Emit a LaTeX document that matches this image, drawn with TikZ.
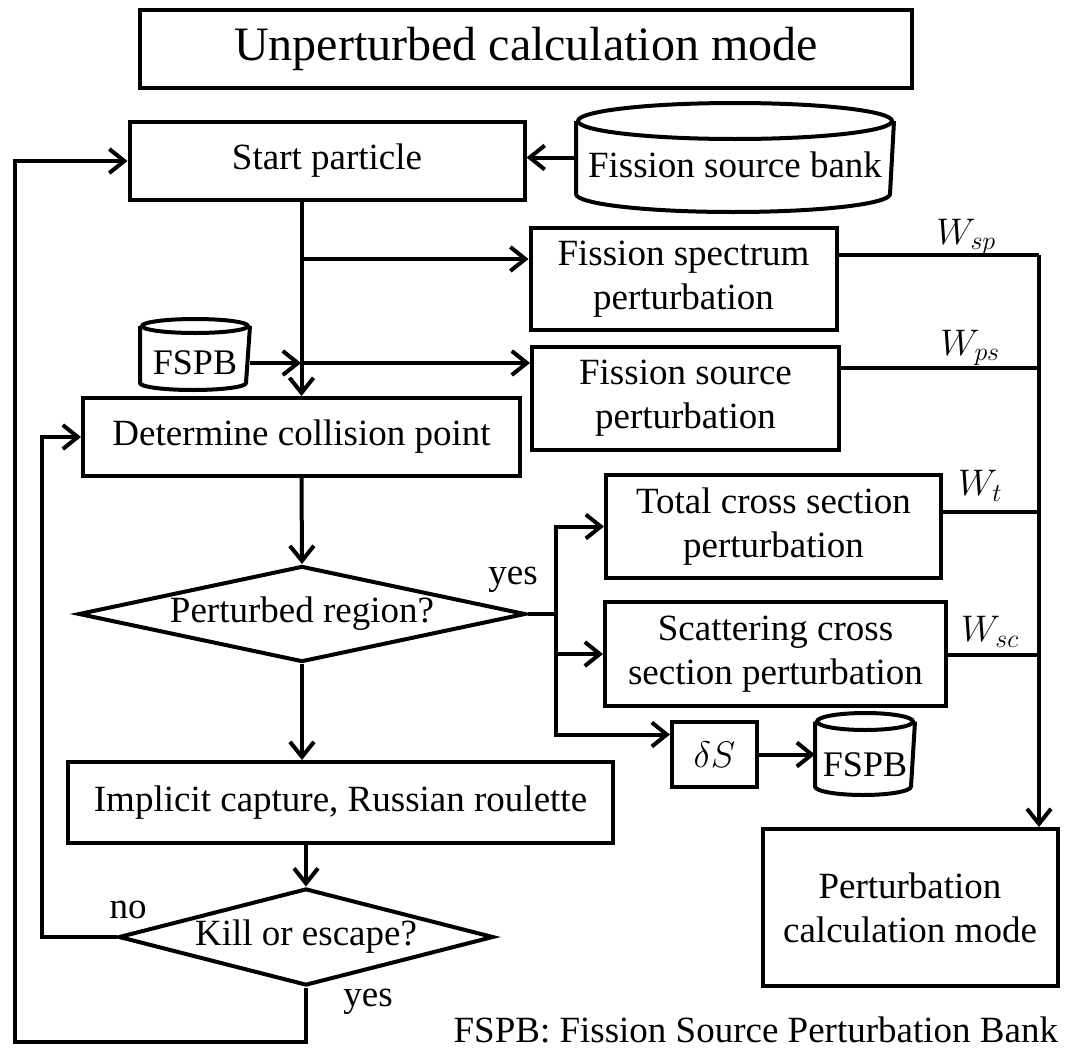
\RequirePackage{fix-cm}
\documentclass[tikz,border=0pt]{standalone}
\usepackage{fontspec}
\setmainfont{Liberation Serif}
\usetikzlibrary{shapes.geometric,arrows.meta,positioning,calc}

% outline of a storage bank round a named node: node, x radius, y radius
\newcommand\bankoutline[3]{%
  \draw (#1.north west) -- (#1.south west)
        arc[start angle=180,end angle=360,x radius=#2pt,y radius=#3pt] -- (#1.north east);
  \draw (#1.north) ellipse[x radius=#2pt,y radius=#3pt];
}

\begin{document}
\begin{tikzpicture}[x=1pt,y=-1pt,line width=4pt,
    box/.style={draw,rectangle,align=center,inner sep=0pt,
                font=\fontsize{37}{44}\selectfont},
    decision/.style={draw,diamond,aspect=#1,inner sep=0pt,
                font=\fontsize{37}{44}\selectfont},
    bankbody/.style={rectangle,inner sep=0pt,font=\fontsize{36}{40}\selectfont},
    tag/.style={inner sep=0pt,font=\fontsize{37}{44}\selectfont},
    flow/.style={-{Straight Barb[length=15pt,width=24pt]}}
]
\useasboundingbox (0,0) rectangle (1066,1052);

% boxes
\node[box,minimum width=772,minimum height=78,font=\fontsize{48}{56}\selectfont] (title) at (526,49) {Unperturbed calculation mode};
\node[box,minimum width=395,minimum height=78] (start) at (327,161) {Start particle};
\node[bankbody,minimum width=314,minimum height=69,text height=40pt,font=\fontsize{37}{44}\selectfont] (fsb) at (735,157.5) {Fission source bank};
\node[box,minimum width=306,minimum height=102] (spec) at (683.5,279) {Fission spectrum\\perturbation};
\node[box,minimum width=307,minimum height=103] (src) at (685.5,398.5) {Fission source\\perturbation};
\node[bankbody,minimum width=106,minimum height=53,text height=41pt] (fspb) at (195,354.5) {FSPB};
\node[box,minimum width=437,minimum height=78] (coll) at (301.5,437) {Determine collision point};
\node[decision=4.6,minimum width=447,minimum height=96] (preg) at (302,614) {Perturbed region?};
\node[box,minimum width=335,minimum height=103] (tot) at (773.5,526.5) {Total cross section\\perturbation};
\node[box,minimum width=341,minimum height=104] (scat) at (775.5,654) {Scattering cross\\section perturbation};
\node[box,minimum width=85,minimum height=65] (ds) at (714.5,754.5) {$\delta S$};
\node[bankbody,minimum width=96,minimum height=61,text height=46pt] (fspb2) at (865,754) {FSPB};
\node[box,minimum width=545,minimum height=81] (cap) at (340.5,802.5) {Implicit capture, Russian roulette};
\node[decision=3.9,minimum width=375,minimum height=97] (kill) at (306,937) {Kill or escape?};
\node[box,minimum width=295,minimum height=157] (pmode) at (910,907.5) {Perturbation\\calculation mode};

% bank outlines
\bankoutline{fsb}{157}{18}
\bankoutline{fspb}{53}{7}
\bankoutline{fspb2}{48}{8.5}

% labels
\node[tag] (yes1) at (513,580) {yes};
\node[tag] (no) at (128,910) {no};
\node[tag] (yes2) at (368,1002) {yes};
\node[tag] (wsp) at (966,237) {$W_{sp}$};
\node[tag] (wps) at (970,348) {$W_{ps}$};
\node[tag] (wt) at (980,486) {$W_t$};
\node[tag] (wsc) at (990,632) {$W_{sc}$};
\node[tag,anchor=base east] (note) at (1060,1042) {FSPB: Fission Source Perturbation Bank};

% junctions
\coordinate (b1) at (301,259);
\coordinate (b2) at (301,363);
\coordinate (fork) at (556,614);
\coordinate (bus) at (1039,255);
\coordinate (jps) at (1039,368);
\coordinate (jt) at (1039,512);
\coordinate (jsc) at (1039,655);
\coordinate (inner) at (42,937);
\coordinate (outer) at (15,1042);

% connectors
\draw[flow] (fsb.west) -- (fsb.west -| start.east);
\draw[flow] (start.south -| coll.north) -- (coll.north);
\draw[flow] (b1) -- (b1 -| spec.west);
\draw[flow] (b2) -- (b2 -| src.west);
\draw[flow] (fspb.east |- b2) -- (b2);
\draw[flow] (coll.south) -- (preg.north);
\draw (preg.east) -- (fork);
\draw[flow] (fork) |- (tot.west);
\draw[flow] (fork) |- (scat.west);
\draw[flow] (fork) |- ([yshift=20pt]ds.west);
\draw[flow] (ds.east) -- (ds.east -| fspb2.west);
\draw (spec.east |- bus) -- (bus);
\draw (src.east |- jps) -- (jps);
\draw (tot.east |- jt) -- (jt);
\draw (scat.east |- jsc) -- (jsc);
\draw[flow] (bus) -- (bus |- pmode.north);
\draw[flow] (preg.south) -- (preg.south |- cap.north);
\draw[flow] (kill.north |- cap.south) -- (kill.north);
\draw[flow] (kill.west) -- (inner) |- (coll.west);
\draw[flow] (kill.south) |- (outer) |- (start.west);
\end{tikzpicture}
\end{document}
